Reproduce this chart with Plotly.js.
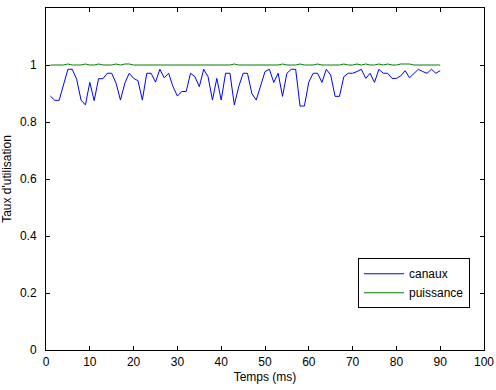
<!DOCTYPE html>
<html><head><meta charset="utf-8">
<script src="https://cdn.plot.ly/plotly-3.0.1.min.js"></script>
<style>html,body{margin:0;padding:0;background:#fff}#c{width:496px;height:390px}</style>
</head><body><div id="c"></div>
<script>
const canaux = [0.891,0.876,0.876,0.93,0.985,0.985,0.95,0.877,0.86,0.939,0.875,0.952,0.952,0.971,0.971,0.936,0.877,0.936,0.971,0.953,0.945,0.877,0.971,0.971,0.94,0.985,0.955,0.971,0.924,0.891,0.907,0.907,0.971,0.959,0.924,0.985,0.959,0.877,0.953,0.877,0.971,0.971,0.86,0.924,0.971,0.971,0.90,0.877,0.924,0.977,0.985,0.939,0.971,0.89,0.971,0.985,0.985,0.856,0.856,0.94,0.971,0.971,0.939,0.985,0.965,0.89,0.89,0.959,0.971,0.971,0.977,0.985,0.953,0.971,0.939,0.985,0.971,0.971,0.953,0.953,0.962,0.98,0.955,0.971,0.985,0.977,0.971,0.985,0.971,0.98];
const bumps = [5,9,12,16,18,19,43,54,58,62,68,71,73,76,78,81,82,83];
const temps = canaux.map((v,i)=>i+1);
const puissance = temps.map(t => bumps.includes(t) ? 1.0035 : 1.0);
const xTicks = [0,10,20,30,40,50,60,70,80,90,100];
const yTicks = [0,0.2,0.4,0.6,0.8,1];
const yTickText = ['0','0.2','0.4','0.6','0.8','1'];

const font = {family:'Liberation Sans, Arial, sans-serif', size:12, color:'#000'};
const axisCommon = {showgrid:false, zeroline:false, showline:true, linecolor:'#000', linewidth:1, mirror:'ticks', ticks:'inside', ticklen:4, tickcolor:'#000', tickfont:font};
Plotly.newPlot('c', [
  {x:temps, y:canaux, type:'scatter', mode:'lines', name:'canaux', line:{color:'#0000ff', width:1}},
  {x:temps, y:puissance, type:'scatter', mode:'lines', name:'puissance', line:{color:'#007f00', width:1}}
], {
  width:496, height:390,
  margin:{l:46, r:12, t:8, b:40},
  paper_bgcolor:'#fff', plot_bgcolor:'#fff',
  font:font,
  showlegend:true,
  legend:{x:0.968, xanchor:'right', y:0.122, yanchor:'bottom', bordercolor:'#000', borderwidth:1, bgcolor:'#fff', font:font, tracegroupgap:0, itemwidth:40},
  xaxis:Object.assign({}, axisCommon, {range:[0,100], tickvals:xTicks, ticktext:xTicks.map(String), ticklabelstandoff:1, title:{text:'Temps (ms)', font:font, standoff:4}}),
  yaxis:Object.assign({}, axisCommon, {range:[0,1.2], tickvals:yTicks, ticktext:yTickText, ticklabelstandoff:6, title:{text:"Taux d'utilisation", font:font, standoff:8}})
}, {displayModeBar:false, staticPlot:true});
</script></body></html>
